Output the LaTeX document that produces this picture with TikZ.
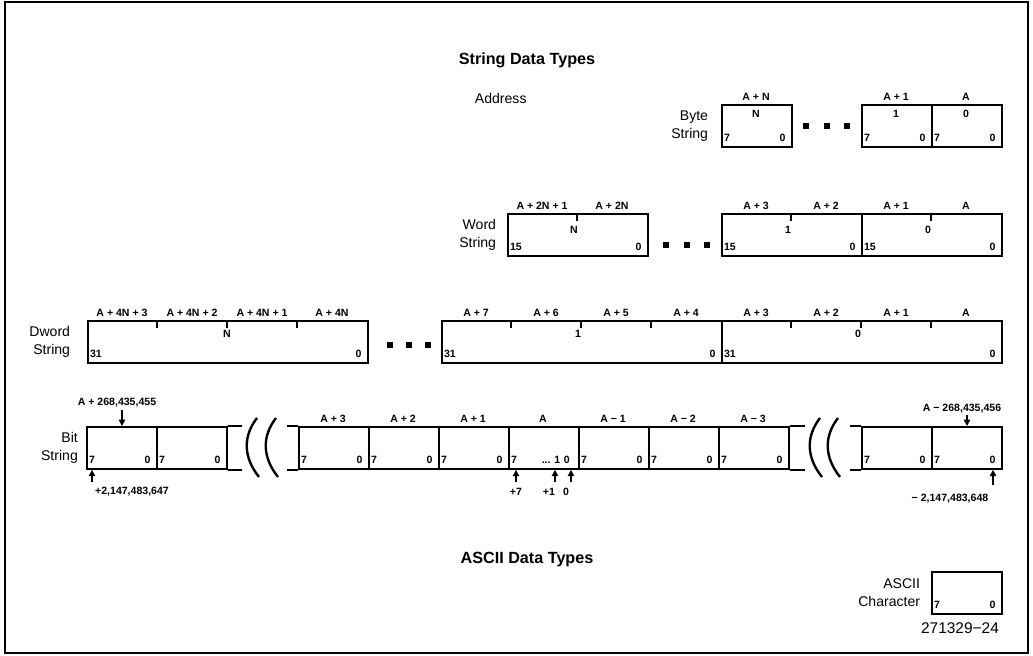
\documentclass[tikz,border=0pt]{standalone}
\usepackage{fontspec}
\setmainfont{Liberation Sans}
\usetikzlibrary{positioning,arrows.meta}

\begin{document}
\begin{tikzpicture}[
    x=0.025cm, y=-0.025cm,
    cell/.style={
        rectangle,
        draw,
        line width=1.3pt,
        minimum height=1.05cm,
        inner sep=0pt,
        anchor=north west
    },
    byte/.style={cell, minimum width=1.75cm},
    word/.style={cell, minimum width=3.5cm},
    dword/.style={cell, minimum width=7cm},
    num/.style={font=\fontsize{7.5}{8}\selectfont\bfseries, inner sep=0pt},
    side/.style={font=\fontsize{10}{12.5}\selectfont, align=right},
    heading/.style={font=\fontsize{11.5}{13}\selectfont\bfseries},
    dot/.style={fill, rectangle, minimum size=3.8pt, inner sep=0pt},
    tick/.style={line width=1.1pt},
    arrow/.style={-{Triangle[width=4.5pt,length=4.5pt]}, line width=1.3pt},
    brk/.style={line width=1.7pt},
    ext/.style={line width=1.3pt}
]
\useasboundingbox (0,0) rectangle (1033,656);

% Frame and headings
\draw[line width=1.3pt] (5,2) rectangle (1028,653);
\node[heading] (title1) at (527,60) {String Data Types};
\node[side, anchor=west] (addr) at (470,98) {Address};

% Byte string
\node[byte] (bN) at (721,104) {};
\node[byte] (b1) at (861,104) {};
\node[byte] (b0) at (931,104) {};
\node[side, left=0.2cm of bN] (byteL) {Byte\\String};
\node[num, anchor=south] (bNa) at (756,101) {A + N};
\node[num, anchor=south] (b1a) at (896,101) {A + 1};
\node[num, anchor=south] (b0a) at (966,101) {A};
\node[num, anchor=north] (bNn) at (756,110) {N};
\node[num, anchor=north] (b1n) at (896,110) {1};
\node[num, anchor=north] (b0n) at (966,110) {0};
\foreach \x [count=\k] in {806,827,847}
    \node[dot] (bdot\k) at (\x,126) {};

% Word string
\node[word] (wN) at (507,213) {};
\node[word] (w1) at (721,213) {};
\node[word] (w0) at (861,213) {};
\node[side, left=0.15cm of wN] (wordL) {Word\\String};
\foreach \x/\lab [count=\k] in {542/A + 2N + 1, 612/A + 2N, 756/A + 3, 826/A + 2, 896/A + 1, 966/A}
    \node[num, anchor=south] (wa\k) at (\x,210) {\lab};
\foreach \x/\lab [count=\k] in {577/N, 791/1, 931/0} {
    \draw[tick] (\x,213) -- (\x,221);
    \node[num, anchor=north] (wn\k) at (\x-3,226) {\lab};
}
\foreach \c in {wN,w1,w0} {
    \node[num, anchor=south west] (\c-hi) at ([xshift=2pt,yshift=4pt]\c.south west) {15};
    \node[num, anchor=south east] (\c-lo) at ([xshift=-5pt,yshift=4pt]\c.south east) {0};
}
\foreach \x [count=\k] in {666,687,707}
    \node[dot] (wdot\k) at (\x,245) {};

% Dword string
\node[dword] (dN) at (87,320) {};
\node[dword] (d1) at (441,320) {};
\node[dword] (d0) at (721,320) {};
\node[side, left=0.3cm of dN] (dwordL) {Dword\\String};
\foreach \x/\lab [count=\k] in {122/A + 4N + 3, 192/A + 4N + 2, 262/A + 4N + 1, 332/A + 4N,
        476/A + 7, 546/A + 6, 616/A + 5, 686/A + 4, 756/A + 3, 826/A + 2, 896/A + 1, 966/A}
    \node[num, anchor=south] (da\k) at (\x,317) {\lab};
\foreach \x in {157,227,297,511,581,651,791,861,931}
    \draw[tick] (\x,320) -- (\x,328);
\node[num, anchor=north] (dNn) at (227,330) {N};
\node[num, anchor=north] (d1n) at (578,330) {1};
\node[num, anchor=north] (d0n) at (858,330) {0};
\foreach \c in {dN,d1,d0} {
    \node[num, anchor=south west] (\c-hi) at ([xshift=2pt,yshift=4pt]\c.south west) {31};
    \node[num, anchor=south east] (\c-lo) at ([xshift=-5pt,yshift=4pt]\c.south east) {0};
}
\foreach \x [count=\k] in {390,409,428}
    \node[dot] (ddot\k) at (\x,345) {};

% Bit string
\node[byte] (bL1) at (86,426) {};
\node[byte] (bL0) at (156,426) {};
\node[side, left=0.08cm of bL1] (bitL) {Bit\\String};
\foreach \lab [count=\k] in {A + 3, A + 2, A + 1, A, A − 1, A − 2, A − 3} {
    \node[byte] (m\k) at (228+70*\k,426) {};
    \node[num, anchor=south] (m\k-a) at (263+70*\k,423) {\lab};
}
\node[byte] (bR1) at (861,426) {};
\node[byte] (bR0) at (931,426) {};
\draw[ext] (bL0.north east) -- ++(14,0) (bL0.south east) -- ++(14,0);
\draw[ext] (m1.north west) -- ++(-11,0) (m1.south west) -- ++(-11,0);
\draw[ext] (m7.north east) -- ++(15,0) (m7.south east) -- ++(15,0);
\draw[ext] (bR1.north west) -- ++(-11,0) (bR1.south west) -- ++(-11,0);
\foreach \bx in {251,270,814,832}
    \draw[brk] (\bx+6,418) .. controls (\bx-8,436) and (\bx-8,457) .. (\bx+8,477);
\foreach \c in {bL1,bL0,m1,m2,m3,m5,m6,m7,bR1,bR0,bN,b1,b0} {
    \node[num, anchor=south west] (\c-hi) at ([xshift=2pt,yshift=4pt]\c.south west) {7};
    \node[num, anchor=south east] (\c-lo) at ([xshift=-5pt,yshift=4pt]\c.south east) {0};
}
\node[num, anchor=south west] (m4-hi) at ([xshift=2pt,yshift=4pt]m4.south west) {7};
\node[num, anchor=south east] (m4-lo) at ([xshift=-7pt,yshift=4pt]m4.south east) {... 1\,\,0};

% Bit offsets
\node[num, anchor=south] (topL) at (117,407) {A + 268,435,455};
\coordinate (pL) at (122,410);
\node[num, anchor=north] (botL) at (132,487) {+2,147,483,647};
\coordinate (qL) at (92,482);
\node[num, anchor=north] (off7) at (516,488) {+7};
\node[num, anchor=north] (off1) at (549,488) {+1};
\node[num, anchor=north] (off0) at (566,488) {0};
\coordinate (q7) at (516,482);
\coordinate (q1) at (555,482);
\coordinate (q0) at (571,482);
\node[num, anchor=south] (topR) at (962,413) {A − 268,435,456};
\coordinate (pR) at (967,415);
\node[num, anchor=north] (botR) at (950,494) {− 2,147,483,648};
\coordinate (qR) at (993,485);

% ASCII
\node[heading] (title2) at (527,560) {ASCII Data Types};
\node[byte] (asc) at (931,571) {};
\node[side, left=0.15cm of asc] (ascL) {ASCII\\Character};
\node[num, anchor=south west] (asc-hi) at ([xshift=2pt,yshift=4pt]asc.south west) {7};
\node[num, anchor=south east] (asc-lo) at ([xshift=-5pt,yshift=4pt]asc.south east) {0};
\node[font=\fontsize{11}{12}\selectfont] (fig) at (960,628) {271329−24};

% Arrows
\draw[arrow] (pL) -- (pL |- bL1.north);
\draw[arrow] (qL) -- (qL |- bL1.south);
\draw[arrow] (q7) -- (q7 |- m4.south);
\draw[arrow] (q1) -- (q1 |- m4.south);
\draw[arrow] (q0) -- (q0 |- m4.south);
\draw[arrow] (pR) -- (pR |- bR0.north);
\draw[arrow] (qR) -- (qR |- bR0.south);

\end{tikzpicture}
\end{document}
